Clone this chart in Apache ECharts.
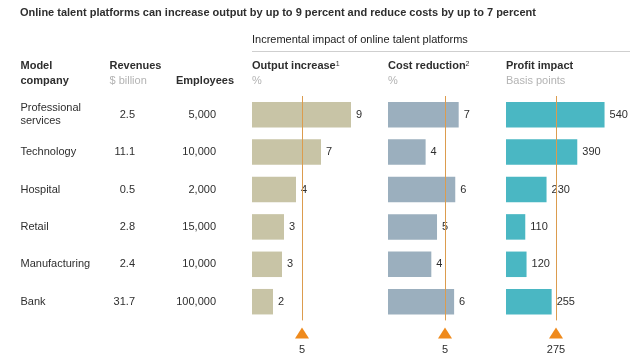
<!DOCTYPE html>
<html>
<head>
<meta charset="utf-8">
<script src="https://cdn.jsdelivr.net/npm/echarts@6/dist/echarts.min.js"></script>
<style>html,body{margin:0;padding:0;background:#fff}#c{width:638px;height:364px}</style>
</head>
<body>
<div id="c"></div>
<script>
var companies = ['Professional\nservices', 'Technology', 'Hospital', 'Retail', 'Manufacturing', 'Bank'];
var revenues = ['2.5', '11.1', '0.5', '2.8', '2.4', '31.7'];
var employees = ['5,000', '10,000', '2,000', '15,000', '10,000', '100,000'];
var outputIncrease = [9.9, 6.9, 4.4, 3.2, 3.0, 2.1];
var outputLabels = ['9', '7', '4', '3', '3', '2'];
var costReduction = [6.2, 3.3, 5.9, 4.3, 3.8, 5.8];
var costLabels = ['7', '4', '6', '5', '4', '6'];
var profitImpact = [542, 392, 223, 106, 113, 251];
var profitLabels = ['540', '390', '230', '110', '120', '255'];
var benchmarks = [5, 5, 275];
var benchmarkLabels = ['5', '5', '275'];

var FONT = '"Liberation Sans", Arial, sans-serif';
var DARK = '#2e2e2e';
var GREY = '#b3b3b3';
var colors = ['#c8c4a6', '#9bafbe', '#4ab7c3'];
var panels = [
  {left: 252, width: 100, max: 10, values: outputIncrease, labels: outputLabels},
  {left: 388, width: 114, max: 10, values: costReduction, labels: costLabels},
  {left: 506, width: 100, max: 550, values: profitImpact, labels: profitLabels}
];

var chart = echarts.init(document.getElementById('c'), null, {renderer: 'canvas'});
var grid = [], xAxis = [], yAxis = [], series = [];
panels.forEach(function (p, i) {
  grid.push({left: p.left, width: p.width, top: 96, height: 224.4});
  xAxis.push({type: 'value', gridIndex: i, min: 0, max: p.max, show: false});
  yAxis.push({type: 'category', gridIndex: i, data: companies, inverse: true,
    axisLine: {show: false}, axisTick: {show: false}, axisLabel: {show: false}, splitLine: {show: false}});
  series.push({
    type: 'bar', xAxisIndex: i, yAxisIndex: i, data: p.values, barWidth: 25.5,
    itemStyle: {color: colors[i]}, clip: false,
    label: {show: true, position: 'right', distance: 5, color: DARK, fontSize: 11, fontFamily: FONT,
      formatter: function (d) { return p.labels[d.dataIndex]; }},
    markLine: {silent: true, symbol: 'none', label: {show: false},
      lineStyle: {color: '#dc9c4e', width: 1, type: 'solid', opacity: 1},
      data: [{xAxis: benchmarks[i]}]}
  });
});
// marker grids
panels.forEach(function (p, i) {
  var gi = 3 + i;
  grid.push({left: p.left, width: p.width, top: 327, height: 12});
  xAxis.push({type: 'value', gridIndex: gi, min: 0, max: p.max, show: false});
  yAxis.push({type: 'value', gridIndex: gi, min: 0, max: 1, show: false});
  series.push({
    type: 'scatter', xAxisIndex: gi, yAxisIndex: gi, data: [[benchmarks[i], 0.5]],
    symbol: 'triangle', symbolSize: [14, 11], itemStyle: {color: '#ef8a1c', opacity: 1}, clip: false,
    label: {show: true, position: 'bottom', distance: 6, color: DARK, fontSize: 11, fontFamily: FONT,
      formatter: function () { return benchmarkLabels[i]; }}
  });
});
// left table axes on grid 0
function tableAxis(data, margin, align) {
  return {type: 'category', gridIndex: 0, data: data, inverse: true, position: 'left',
    axisLine: {show: false}, axisTick: {show: false}, splitLine: {show: false},
    axisLabel: {show: true, margin: margin, align: align, color: DARK, fontSize: 11, fontFamily: FONT, lineHeight: 13}};
}
yAxis.push(tableAxis(companies, 231.5, 'left'));
yAxis.push(tableAxis(revenues, 117, 'right'));
yAxis.push(tableAxis(employees, 36, 'right'));

function txt(x, y, text, opts) {
  opts = opts || {};
  return {type: 'text', x: x, y: y, silent: true, style: {
    text: text, fill: opts.fill || DARK, font: (opts.weight || 'normal') + ' ' + (opts.size || 11) + 'px ' + FONT,
    align: opts.align || 'left', verticalAlign: 'middle', rich: opts.rich}};
}
var supRich = {b: {fontWeight: 'bold', fontSize: 11, fontFamily: FONT, fill: DARK, color: DARK},
  s: {fontSize: 7, fontFamily: FONT, color: DARK, verticalAlign: 'top', padding: [0, 0, 4, 0]}};

var graphics = [
  txt(20, 12.5, 'Online talent platforms can increase output by up to 9 percent and reduce costs by up to 7 percent', {weight: 'bold'}),
  txt(252, 39.5, 'Incremental impact of online talent platforms', {fill: '#222'}),
  {type: 'line', silent: true, shape: {x1: 252, y1: 51.5, x2: 630, y2: 51.5}, style: {stroke: '#cfcfcf', lineWidth: 1}},
  txt(20.5, 66, 'Model', {weight: 'bold'}),
  txt(20.5, 80.5, 'company', {weight: 'bold'}),
  txt(109.5, 66, 'Revenues', {weight: 'bold'}),
  txt(109.5, 80.5, '$ billion', {fill: GREY}),
  txt(176, 80.5, 'Employees', {weight: 'bold'}),
  txt(252, 66, '{b|Output increase}{s|1}', {rich: supRich}),
  txt(252, 80.5, '%', {fill: GREY}),
  txt(388, 66, '{b|Cost reduction}{s|2}', {rich: supRich}),
  txt(388, 80.5, '%', {fill: GREY}),
  txt(506, 66, 'Profit impact', {weight: 'bold'}),
  txt(506, 80.5, 'Basis points', {fill: GREY})
];

chart.setOption({
  backgroundColor: '#ffffff',
  animation: false,
  grid: grid, xAxis: xAxis, yAxis: yAxis, series: series,
  graphic: graphics
});
</script>
</body>
</html>
